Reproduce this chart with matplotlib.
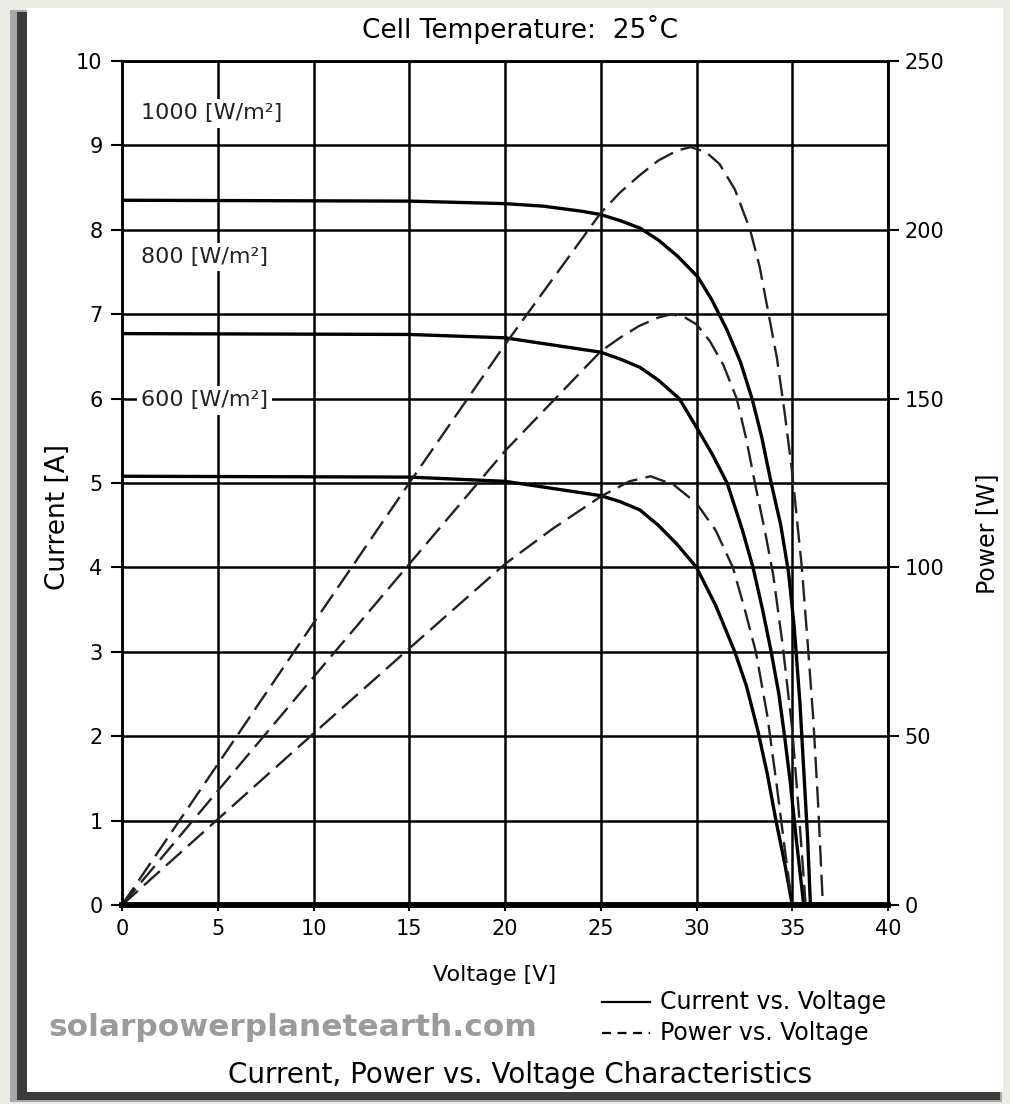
import numpy as np
import matplotlib.pyplot as plt
from matplotlib.patches import Rectangle

# I-V curves (voltage [V], current [A])
v_i1000 = [0, 15, 20, 22, 24, 25, 26, 27.05, 28, 29, 30.08, 30.8, 31.6, 32.3, 32.9, 33.4, 33.9,
           34.4, 34.8, 35.1, 35.4, 35.6, 35.8, 35.95]
i_1000 = [8.35, 8.34, 8.31, 8.28, 8.22, 8.18, 8.11, 8.02, 7.88, 7.69, 7.44, 7.17, 6.81, 6.43, 6.0, 5.55, 5.0,
          4.5, 3.95, 3.3, 2.4, 1.6, 0.8, 0]
v_i800 = [0, 15, 20, 25, 26, 27.05, 28, 29.1, 30, 30.8, 31.6, 32.4, 32.95, 33.45, 33.9, 34.3, 34.6,
          34.9, 35.2, 35.6]
i_800 = [6.77, 6.76, 6.72, 6.55, 6.47, 6.37, 6.22, 6.0, 5.66, 5.35, 5.0, 4.44, 4.0, 3.5, 3.0, 2.5, 2.0,
         1.45, 0.8, 0]
v_i600 = [0, 15, 20, 25, 26, 27.05, 28, 29, 30, 31, 32.0, 32.6, 33.2, 33.7, 34.15, 34.6, 35.0]
i_600 = [5.08, 5.07, 5.02, 4.85, 4.78, 4.68, 4.5, 4.27, 4.0, 3.55, 3.0, 2.6, 2.07, 1.55, 1.0, 0.5, 0]

# P-V curves (voltage [V], power [W])
v_p1000 = [0, 5, 10, 15, 20, 25, 26, 27, 28, 29, 29.7, 30.5, 31.2, 32, 32.8, 33.3, 33.8, 34.2, 34.6,
           35, 35.5, 35.8, 36.1, 36.35, 36.6]
p_1000 = [0, 41.7, 83.5, 125, 166, 205, 211, 216, 220.5, 223.5, 224.5, 223, 219.5, 212, 200, 189, 174,
          162, 146, 128, 100, 78, 55, 30, 0]
v_p800 = [0, 5, 10, 15, 20, 25, 26, 27, 28, 28.7, 29.4, 30, 30.7, 31.4, 32.1, 32.6, 33.05, 33.6, 34,
          34.5, 35, 35.35, 35.7]
p_800 = [0, 33.8, 67.5, 101, 134.5, 164, 168, 171.5, 174, 175, 174, 172, 167, 160, 150, 138, 125, 110,
         98, 77, 52, 27, 0]
v_p600 = [0, 5, 10, 15, 20, 22.5, 25, 26.5, 27.6, 28.8, 30, 31, 31.9, 32.5, 33.1, 33.7, 34.2, 34.6, 35.0]
p_600 = [0, 25.4, 50.8, 76, 101, 111.5, 121, 125.5, 127, 124.5, 119, 111, 100, 88, 75, 56, 35, 17, 0]

irr_labels = ['1000 [W/m²]', '800 [W/m²]', '600 [W/m²]']
irr_label_y = [9.38, 7.68, 5.98]

fig = plt.figure(figsize=(10.10, 11.04), dpi=100)
fig.patch.set_facecolor('#ecece6')

# framed white panel with a dark shadow on the left and bottom
W, H = 1010.0, 1104.0
fig.patches.append(Rectangle((10 / W, 2 / H), 992 / W, 1092 / H, transform=fig.transFigure,
                             facecolor='#a8a8a8', edgecolor='none', zorder=-3))
fig.patches.append(Rectangle((17 / W, 4 / H), 983 / W, 1088 / H, transform=fig.transFigure,
                             facecolor='#3c3c3c', edgecolor='none', zorder=-2))
fig.patches.append(Rectangle((27 / W, 12 / H), 976 / W, 1084 / H, transform=fig.transFigure,
                             facecolor='white', edgecolor='none', zorder=-1))

ax = fig.add_axes([122 / W, 1 - 905 / H, 766 / W, 844 / H])
ax.set_facecolor('white')
ax2 = ax.twinx()

for v, i in [(v_i1000, i_1000), (v_i800, i_800), (v_i600, i_600)]:
    ax.plot(v, i, color='black', lw=2.4, solid_joinstyle='round', zorder=3)

dash = (0, (9, 3.5))
for v, p in [(v_p1000, p_1000), (v_p800, p_800), (v_p600, p_600)]:
    ax2.plot(v, p, color='#222222', lw=1.7, linestyle=dash)

ax.set_xlim(0, 40)
ax.set_ylim(0, 10)
ax2.set_ylim(0, 250)
ax.set_xticks(np.arange(0, 41, 5))
ax.set_yticks(np.arange(0, 11, 1))
ax2.set_yticks(np.arange(0, 251, 50))
ax.grid(True, color='black', lw=1.8)
ax.set_axisbelow(True)

ax.tick_params(axis='both', labelsize=15, colors='black', width=1.5)
ax.tick_params(axis='y', length=8, pad=6)
ax.tick_params(axis='x', length=4, pad=6)
ax2.tick_params(axis='y', labelsize=15, length=8, width=1.5, pad=4)
for a in (ax, ax2):
    for s in a.spines.values():
        s.set_linewidth(1.8)
    a.spines['bottom'].set_linewidth(4)

for lab, yy in zip(irr_labels, irr_label_y):
    ax.text(1.0, yy, lab, fontsize=16, color='#222222', va='center', ha='left',
            bbox=dict(facecolor='white', edgecolor='none', pad=3), zorder=4)

ax.set_ylabel('Current [A]', fontsize=19)
ax.yaxis.set_label_coords(-0.066, 0.46)
ax2.set_ylabel('Power [W]', fontsize=17, rotation=90)
ax2.yaxis.set_label_coords(1.114, 0.44)

fig.text(520 / W, 1 - 30 / H, 'Cell Temperature:  25˚C', fontsize=19, ha='center', va='center')
fig.text(495 / W, 1 - 975 / H, 'Voltage [V]', fontsize=16, ha='center', va='center')

# legend drawn by hand beside the watermark
fig.lines.append(plt.Line2D([602 / W, 650 / W], [1 - 1002 / H] * 2, color='black', lw=1.6,
                            transform=fig.transFigure))
fig.lines.append(plt.Line2D([602 / W, 650 / W], [1 - 1033 / H] * 2, color='black', lw=1.6,
                            linestyle=(0, (4, 3)), transform=fig.transFigure))
fig.text(660 / W, 1 - 1002 / H, 'Current vs. Voltage', fontsize=17, va='center')
fig.text(660 / W, 1 - 1033 / H, 'Power vs. Voltage', fontsize=17, va='center')
fig.text(48 / W, 1 - 1027 / H, 'solarpowerplanetearth.com', fontsize=22.5, fontweight='bold',
         color='#9b9b9b', va='center')
fig.text(520 / W, 1 - 1075 / H, 'Current, Power vs. Voltage Characteristics', fontsize=20,
         ha='center', va='center')

plt.savefig('out.png', dpi=100, facecolor=fig.get_facecolor())
